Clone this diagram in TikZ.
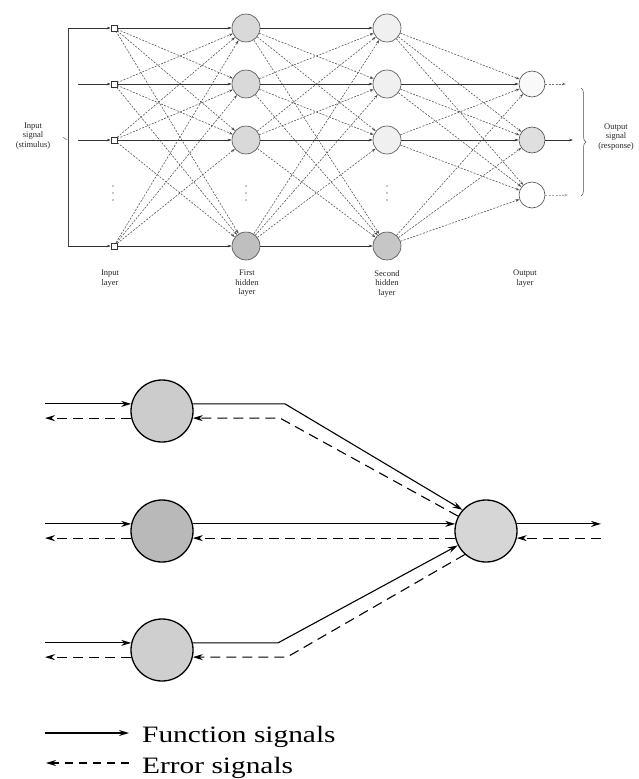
\documentclass[tikz,border=0pt]{standalone}
\usepackage{fontspec}
\setmainfont{Liberation Serif}
\usetikzlibrary{arrows.meta,decorations.pathreplacing,calc}
\begin{document}
\begin{tikzpicture}[x=1pt,y=-1pt,
  sq/.style={draw=black!80,line width=0.5pt,fill=white,minimum size=6pt,inner sep=0pt},
  neuron/.style={circle,draw=black!70,line width=0.6pt,minimum size=28pt,inner sep=0pt},
  outn/.style={neuron,minimum size=26pt},
  hc/.style={draw=black!80,line width=0.55pt,-{Stealth[length=4pt,width=2.6pt]}},
  dc/.style={hc,dash pattern=on 2pt off 1.4pt,draw=black!70},
  lbl/.style={font=\fontsize{8.5}{9.5}\selectfont,align=center,text=black!85,inner sep=0pt},
  big/.style={circle,draw=black,line width=1.3pt,minimum size=62pt,inner sep=0pt},
  fs/.style={line width=1.1pt,-{Stealth[length=10pt,width=6pt]}},
  es/.style={fs,dash pattern=on 10pt off 6pt},
  legend/.style={anchor=base west,inner sep=0pt,font=\fontsize{23.5}{24}\selectfont}
]
\useasboundingbox (0,0) rectangle (639,779);

% ---------- top network ----------
\foreach \i/\y in {1/28,2/84,3/140,4/246} {
  \node[sq] (in\i) at (114,\y) {};
}
\node[neuron,fill=gray!30] (ha1) at (246,28) {};
\node[neuron,fill=gray!30] (ha2) at (246,84) {};
\node[neuron,fill=gray!30] (ha3) at (246,140) {};
\node[neuron,fill=gray!50] (ha4) at (246,246) {};
\node[neuron,fill=gray!12] (hb1) at (387,28) {};
\node[neuron,fill=gray!12] (hb2) at (387,84) {};
\node[neuron,fill=gray!12] (hb3) at (387,140) {};
\node[neuron,fill=gray!45] (hb4) at (387,246) {};
\node[outn,fill=gray!5] (o1) at (532,84) {};
\node[outn,fill=gray!25] (o2) at (532,140) {};
\node[outn,fill=white] (o3) at (532,195) {};

\foreach \i in {1,...,4} {
  \foreach \j in {1,...,4} {
    \ifnum\i=\j
      \draw[hc] (in\i) -- (ha\j);
      \draw[hc] (ha\i) -- (hb\j);
    \else
      \draw[dc] (in\i) -- (ha\j);
      \draw[dc] (ha\i) -- (hb\j);
    \fi
  }
}
\foreach \i in {1,...,4} {
  \foreach \j in {1,2,3} {
    \pgfmathtruncatemacro{\hz}{(\i-\j==1)&&(\j<3) ? 1 : 0}
    \ifnum\hz=1
      \draw[hc] (hb\i) -- (o\j);
    \else
      \draw[dc] (hb\i) -- (o\j);
    \fi
  }
}

% left bracket and input arrows
\coordinate (bk) at (68,0);
\coordinate (bm) at (78,0);
\draw[black!75,line width=0.5pt] (in1 -| bk) -- (in4 -| bk);
\draw[hc] (in1 -| bk) -- (in1);
\draw[hc] (in4 -| bk) -- (in4);
\draw[hc] (in2 -| bm) -- (in2);
\draw[hc] (in3 -| bm) -- (in3);
\coordinate (tk1) at (63,137);
\coordinate (tk2) at (67,140);
\draw[black!60,line width=0.5pt] (tk1) -- (tk2);

% output arrows and brace
\coordinate (oe1) at (566,84);
\coordinate (oe2) at (573,140);
\coordinate (oe3) at (568,195);
\draw[dc,draw=black!55] (o1) -- (oe1);
\draw[hc] (o2) -- (oe2);
\draw[dc,draw=black!35] (o3) -- (oe3);
\coordinate (br1) at (581,88);
\coordinate (br2) at (581,196);
\draw[black!70,line width=0.5pt,decorate,decoration={brace,amplitude=5pt}] (br1) -- (br2);

% vertical dots
\foreach \x in {113,246,387} {
  \foreach \y in {186,193,200} {
    \fill[black!45] (\x,\y) circle (0.8pt);
  }
}

% labels
\node[lbl] (lin) at (33,136) {Input\\signal\\(stimulus)};
\node[lbl] (lout) at (616,137) {Output\\signal\\(response)};
\node[lbl,anchor=north] (l1) at (110,270) {Input\\layer};
\node[lbl,anchor=north] (l2) at (247,270) {First\\hidden\\layer};
\node[lbl,anchor=north] (l3) at (387,270) {Second\\hidden\\layer};
\node[lbl,anchor=north] (l4) at (525,270) {Output\\layer};

% ---------- bottom diagram ----------
\node[big,fill=gray!40] (A) at (162,411) {};
\node[big,fill=gray!55] (B) at (162,531) {};
\node[big,fill=gray!38] (C) at (162,650) {};
\node[big,fill=gray!32] (D) at (486,531) {};

\coordinate (L) at (45,0);
\coordinate (R) at (601,0);
\coordinate (bs1) at (285,0);
\coordinate (bd1) at (280,0);
\coordinate (bs3) at (278,0);
\coordinate (bd3) at (287,0);

\foreach \n in {A,B,C} {
  \draw[fs] (\n.167 -| L) -- (\n.167);
  \draw[es] (\n.193) -- (\n.193 -| L);
}
\draw[fs] (A.13) -- (A.13 -| bs1) -- (D.138);
\draw[es] (D.152) -- (A.-13 -| bd1) -- (A.-13);
\draw[fs] (B.13) -- (D.167);
\draw[es] (D.193) -- (B.-13);
\draw[fs] (C.13) -- (C.13 -| bs3) -- (D.207);
\draw[es] (D.228) -- (C.-13 -| bd3) -- (C.-13);
\draw[fs] (D.13) -- (D.13 -| R);
\draw[es] (D.-13 -| R) -- (D.-13);

% legend
\coordinate (f1) at (45,733);
\coordinate (f2) at (129,733);
\draw[fs] (f1) -- (f2);
\node[legend] (ft) at (142,742) {\scalebox{1.25}[1]{Function signals}};
\coordinate (e1) at (129,763);
\coordinate (e2) at (46,763);
\draw[es,dash pattern=on 8pt off 6pt] (e1) -- (e2);
\node[legend] (et) at (142,773) {\scalebox{1.25}[1]{Error signals}};
\end{tikzpicture}
\end{document}
